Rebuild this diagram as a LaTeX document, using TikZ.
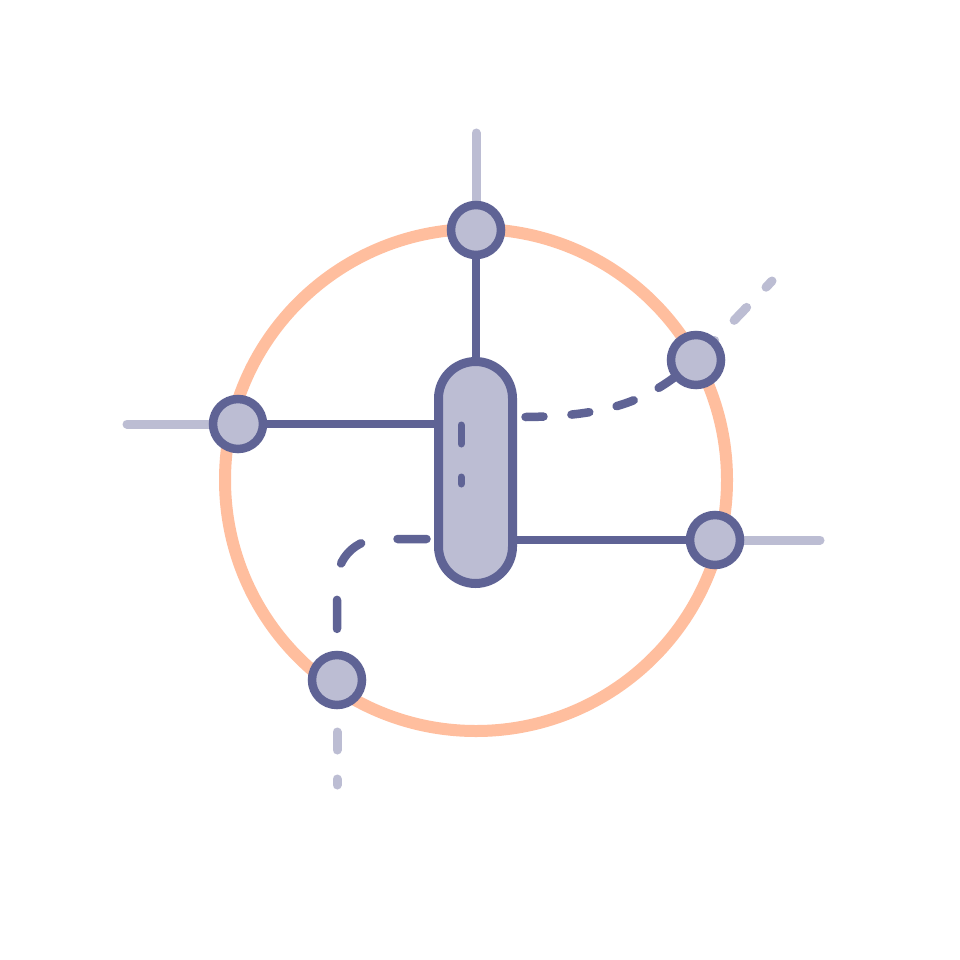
\documentclass[tikz,border=0pt]{standalone}
\definecolor{ring}{HTML}{FFBE9E}
\definecolor{pale}{HTML}{BCBDD3}
\definecolor{ink}{HTML}{5F6395}
\tikzset{
  port/.style={circle, draw=ink, fill=pale, line width=8.5pt, minimum size=50pt, inner sep=0pt, outer sep=0pt},
  hub/.style={rectangle, rounded corners=37pt, draw=ink, fill=pale, line width=9pt, minimum width=74pt, minimum height=222pt, inner sep=0pt, outer sep=0pt},
  wire/.style={draw=ink, line width=8.5pt, line cap=round},
  ghost/.style={draw=pale, line width=9pt, line cap=round},
}
\begin{document}
\begin{tikzpicture}[x=1pt,y=-1pt]
\useasboundingbox (0,0) rectangle (960,960);
\fill[white] (0,0) rectangle (960,960);
% orange ring
\draw[ring, line width=12pt] (476,480) circle[radius=251];
% positions
\coordinate (pc) at (475.5,472.5);
\coordinate (tc) at (476,230);
\coordinate (lc) at (238,424);
\coordinate (urc) at (696,360);
\coordinate (rc) at (715,540);
\coordinate (blc) at (337,680);
% free ends
\coordinate (topend) at (476,133);
\coordinate (leftend) at (127,424);
\coordinate (rightend) at (820,540);
\coordinate (urend) at (772,281);
\coordinate (blend) at (337,785);
\coordinate (urstart) at (513,417);
\coordinate (blstart) at (438,539);
% light outer spokes
\draw[ghost] (tc) -- (topend);
\draw[ghost] (lc) -- (leftend);
\draw[ghost] (rc) -- (rightend);
\draw[ghost, dash pattern=on 18pt off 28pt, dash phase=37pt] (urc) -- (urend);
\draw[ghost, dash pattern=on 18pt off 29pt, dash phase=21pt] (blc) ++(0,26) -- (blend);
% dark connectors
\draw[wire] (tc) -- (tc |- pc);
\draw[wire] (lc) -- (lc -| pc);
\draw[wire] (rc) -- (rc -| pc);
\draw[wire, dash pattern=on 18pt off 28pt, dash phase=33.5pt]
  (urstart) .. controls (620,418) and (655,395) .. (urc);
\draw[wire, dash pattern=on 29pt off 37pt, dash phase=54.5pt, shorten >=36pt]
  (blstart) -- (380,539) .. controls (356,539) and (337,558) .. (337,582) -- (blc);
% hub
\node[hub] (pill) at (pc) {};
\draw[wire, line width=7pt, dash pattern=on 19pt off 33pt] (461,425) -- (461,484);
% ports
\node[port] (top) at (tc) {};
\node[port] (left) at (lc) {};
\node[port] (ur) at (urc) {};
\node[port] (right) at (rc) {};
\node[port] (bl) at (blc) {};
\end{tikzpicture}
\end{document}
